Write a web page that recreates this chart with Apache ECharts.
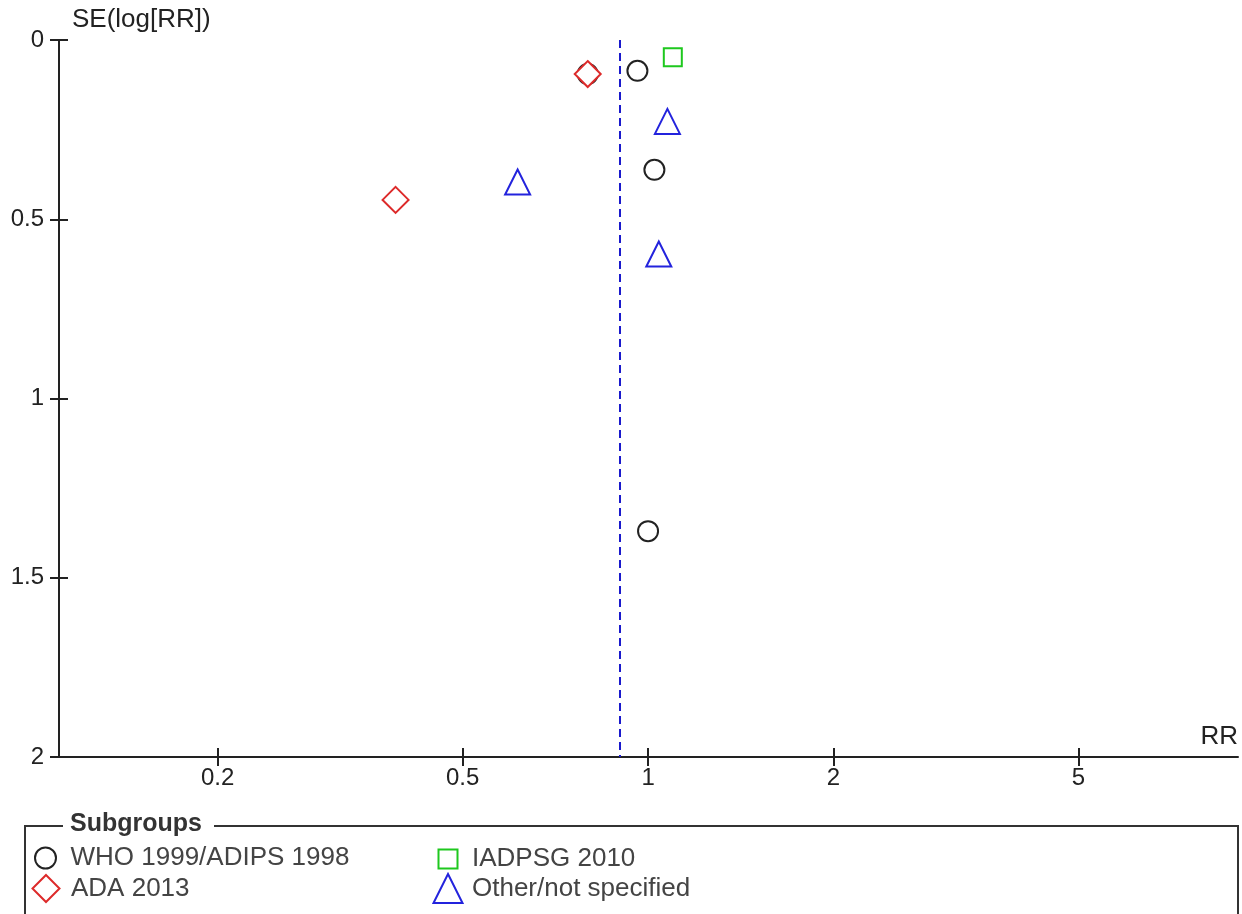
<!DOCTYPE html>
<html>
<head>
<meta charset="utf-8">
<script src="https://cdn.jsdelivr.net/npm/echarts@6/dist/echarts.min.js"></script>
<style>
  html, body { margin: 0; padding: 0; background: #fff; }
  #chart { width: 1242px; height: 914px; }
</style>
</head>
<body>
<div id="chart"></div>
<script>
// Funnel plot: risk ratio (log scale) against its standard error, by subgroup.
const rrTicks = [0.2, 0.5, 1, 2, 5];
const seTicks = [0, 0.5, 1, 1.5, 2];
const pooledRR = 0.90;

// [RR, SE(log[RR])] per study
const whoAdips = [[0.961, 0.086], [0.798, 0.095], [1.024, 0.362], [1.000, 1.370]];
const iadpsg = [[1.097, 0.048]];
const ada = [[0.798, 0.095], [0.389, 0.446]];
const otherSpec = [[1.075, 0.227], [0.614, 0.396], [1.041, 0.597]];

const FONT = 'Liberation Sans, Arial, sans-serif';

const subgroups = [
  { name: 'WHO 1999/ADIPS 1998', data: whoAdips, symbol: 'circle', size: 20, color: '#222222' },
  { name: 'IADPSG 2010', data: iadpsg, symbol: 'rect', size: 18, color: '#1ec81e' },
  { name: 'ADA 2013', data: ada, symbol: 'diamond', size: 26, color: '#dd2a2a' },
  { name: 'Other/not specified', data: otherSpec, symbol: 'triangle', size: 25, color: '#2323dd' }
];

const chart = echarts.init(document.getElementById('chart'), null, { renderer: 'canvas' });

const xBase = {
  type: 'log',
  logBase: 10,
  min: 0.1105,
  max: 9.08,
  position: 'bottom',
  splitLine: { show: false }
};
const yBase = {
  type: 'value',
  min: seTicks[0],
  max: seTicks[seTicks.length - 1],
  interval: 0.5,
  inverse: true,
  position: 'left',
  splitLine: { show: false }
};

const series = subgroups.map(g => ({
  name: g.name,
  type: 'scatter',
  data: g.data,
  symbol: g.symbol,
  symbolSize: g.size,
  itemStyle: { color: '#ffffff', borderColor: g.color, borderWidth: 2, opacity: 1 },
  emphasis: { disabled: true },
  z: 3
}));
// pooled estimate
series[0].markLine = {
  silent: true,
  symbol: 'none',
  label: { show: false },
  lineStyle: { color: '#1a1acc', width: 2, type: [8, 5] },
  data: [{ xAxis: pooledRR }]
};

// one legend block per entry so each icon keeps its own size
function legendItem(name, left, top, size, padLeft) {
  return {
    data: [name],
    left: left,
    top: top,
    orient: 'vertical',
    itemWidth: size,
    itemHeight: size,
    symbolKeepAspect: true,
    selectedMode: false,
    padding: 0,
    textStyle: { fontFamily: FONT, fontSize: 26, color: '#444444', padding: [0, 0, 0, padLeft] }
  };
}

const option = {
  animation: false,
  backgroundColor: '#ffffff',
  grid: { left: 59, right: 4, top: 40, bottom: 157, containLabel: false },
  xAxis: [
    Object.assign({}, xBase, {
      name: 'RR',
      nameLocation: 'end',
      nameGap: 0,
      nameTextStyle: { fontFamily: FONT, fontSize: 26, color: '#222', align: 'right', verticalAlign: 'bottom', padding: [0, 0, 7, 0] },
      axisLine: { show: true, onZero: false, lineStyle: { color: '#222', width: 2 } },
      axisTick: { show: true, inside: false, length: 9, customValues: rrTicks, lineStyle: { color: '#222', width: 2 } },
      axisLabel: {
        show: true, customValues: rrTicks, margin: 9,
        fontFamily: FONT, fontSize: 24, color: '#222',
        formatter: v => String(+Number(v).toPrecision(3))
      },
      minorTick: { show: false }
    }),
    Object.assign({}, xBase, {
      axisLine: { show: false, onZero: false },
      axisTick: { show: true, inside: true, length: 9, customValues: rrTicks, lineStyle: { color: '#222', width: 2 } },
      axisLabel: { show: false }
    })
  ],
  yAxis: [
    Object.assign({}, yBase, {
      name: 'SE(log[RR])',
      nameLocation: 'start',
      nameGap: 7,
      nameTextStyle: { fontFamily: FONT, fontSize: 26, color: '#222', align: 'left', padding: [0, 0, 0, 13] },
      axisLine: { show: true, onZero: false, lineStyle: { color: '#222', width: 2 } },
      axisTick: { show: true, inside: false, length: 9, lineStyle: { color: '#222', width: 2 } },
      axisLabel: { show: true, margin: 15, fontFamily: FONT, fontSize: 24, color: '#222', formatter: v => String(v) }
    }),
    Object.assign({}, yBase, {
      axisLine: { show: false, onZero: false },
      axisTick: { show: true, inside: true, length: 9, lineStyle: { color: '#222', width: 2 } },
      axisLabel: { show: false }
    })
  ],
  legend: [
    legendItem('WHO 1999/ADIPS 1998', 34, 845, 21, 9.5),
    legendItem('ADA 2013', 31.5, 874, 27, 6.5),
    legendItem('IADPSG 2010', 437.5, 846, 19, 9.5),
    legendItem('Other/not specified', 432.5, 873, 29, 4.5)
  ],
  graphic: [
    {
      type: 'polyline', silent: true,
      shape: { points: [[63, 826], [25, 826], [25, 930]] },
      style: { stroke: '#333', lineWidth: 2, fill: null }
    },
    {
      type: 'polyline', silent: true,
      shape: { points: [[214, 826], [1238, 826], [1238, 930]] },
      style: { stroke: '#333', lineWidth: 2, fill: null }
    },
    {
      type: 'text', silent: true, left: 70, top: 812,
      style: { text: 'Subgroups', font: 'bold 25px ' + FONT, fill: '#333' }
    }
  ],
  series: series
};

chart.setOption(option);
</script>
</body>
</html>
